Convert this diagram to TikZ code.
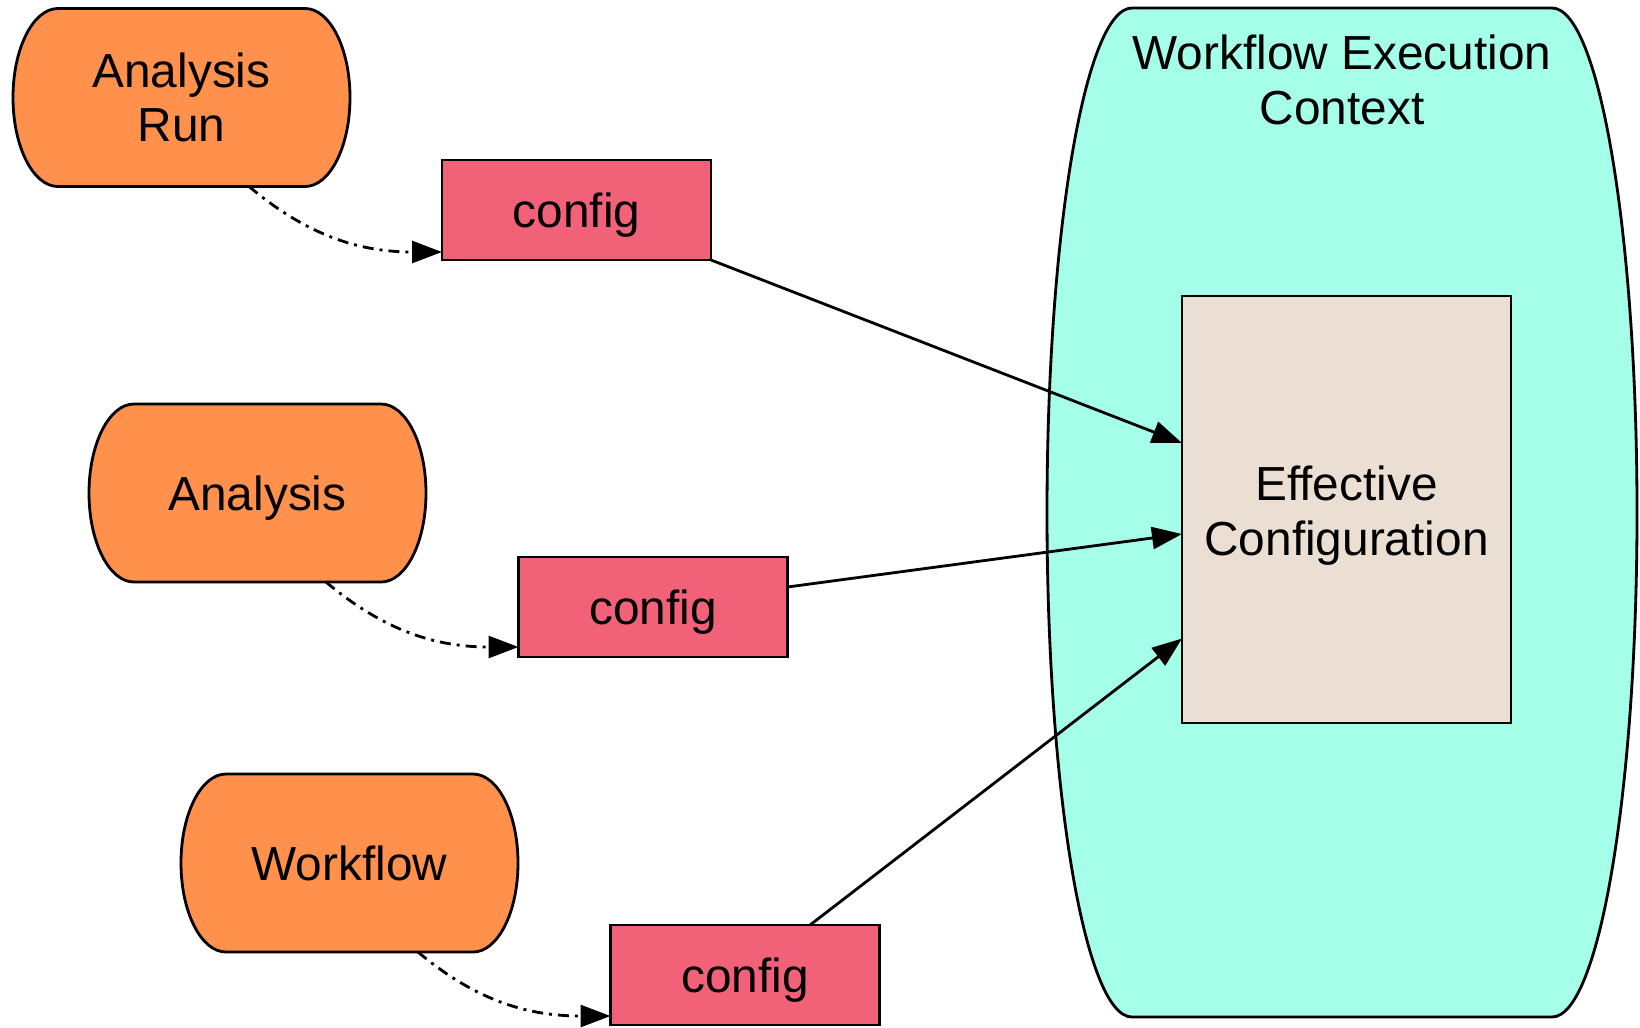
\documentclass[tikz,border=0pt]{standalone}
\usepackage{fontspec}
\setmainfont{Liberation Sans}
\usepackage{tikz}
\usetikzlibrary{arrows.meta,backgrounds}
\tikzset{>={Triangle[length=0.30cm,width=0.22cm]}}
\usepackage{xcolor}
\definecolor{termcol}{HTML}{FF914D}
\definecolor{cfgcol}{HTML}{F16279}
\definecolor{ctxcol}{HTML}{A5FFE8}
\definecolor{effcol}{HTML}{EBDFD4}
\tikzstyle{label}=[font=\fontsize{13.6}{15.5}\selectfont,align=center]
\tikzstyle{oneline}=[text height=0.44cm,text depth=0.10cm]
\tikzstyle{terminal}=[label,minimum width=3.37cm,minimum height=1.78cm,inner sep=0,outer sep=0]
\tikzstyle{termline}=[draw=black,fill=termcol,line width=0.8pt]
\tikzstyle{ctxline}=[draw=black,fill=ctxcol,line width=0.8pt]
\tikzstyle{cfgbox}=[label,oneline,draw,fill=cfgcol,line width=0.8pt,minimum width=2.69cm,minimum height=1.00cm,inner sep=0,outer sep=0]
\tikzstyle{effbox}=[label,text height=1.01cm,draw,fill=effcol,line width=0.8pt,minimum width=3.29cm,minimum height=4.27cm,inner sep=0,outer sep=0]
\tikzstyle{feed}=[->,line width=0.8pt]
\tikzset{
  flow/.style={->,line width=0.8pt,
               dash pattern=on 0.11cm off 0.06cm on 0.03cm off 0.06cm},
  flow/.default=0}

\begin{document}
\begin{tikzpicture}
  \def\rx{0.45}
  \def\ry{0.89}
  \useasboundingbox (0,0) rectangle (16.40,-10.27);

  % SOURCES
  \node[terminal] (run) at (1.815,-0.975) {Analysis\\Run};
  \node[terminal,oneline] (ana) at (2.575,-4.93) {Analysis};
  \node[terminal,oneline] (wf)  at (3.495,-8.63) {Workflow};

  % CONFIGS
  \node[cfgbox] (cfg1) at (5.765,-2.10) {config};
  \node[cfgbox] (cfg2) at (6.53,-6.07)  {config};
  \node[cfgbox] (cfg3) at (7.45,-9.75)  {config};

  % CONTEXT
  \node[label] (ctxtitle) at (13.42,-0.80) {Workflow Execution\\Context};
  \node[effbox] (eff) at (13.465,-5.095) {Effective\\Configuration};

  \begin{scope}[on background layer]
    \draw[ctxline] (11.32,-0.08) -- (15.52,-0.08)
      arc[start angle=90,end angle=-90,x radius=0.85,y radius=5.045]
      -- (11.32,-10.17)
      arc[start angle=270,end angle=90,x radius=0.85,y radius=5.045] -- cycle;
    \foreach \n in {run,ana,wf}{
      \draw[termline] ([xshift=\rx cm]\n.north west) -- ([xshift=-\rx cm]\n.north east)
        arc[start angle=90,end angle=-90,x radius=\rx,y radius=\ry]
        -- ([xshift=\rx cm]\n.south west)
        arc[start angle=270,end angle=90,x radius=\rx,y radius=\ry] -- cycle;
    }
  \end{scope}

  % EDGES
  \draw[flow] ([xshift=0.675cm]run.south) to[out=-40,in=180] ([yshift=0.08cm]cfg1.south west);
  \draw[flow] ([xshift=0.685cm]ana.south) to[out=-40,in=180] ([yshift=0.10cm]cfg2.south west);
  \draw[flow] ([xshift=0.685cm]wf.south)  to[out=-40,in=180] ([yshift=0.09cm]cfg3.south west);

  \draw[feed] (cfg1.south east) -- ([yshift=0.665cm]eff.west);
  \draw[feed] ([yshift=0.20cm]cfg2.east) -- ([yshift=-0.245cm]eff.west);
  \draw[feed] ([xshift=0.65cm]cfg3.north) -- ([yshift=-1.29cm]eff.west);

\end{tikzpicture}
\end{document}
